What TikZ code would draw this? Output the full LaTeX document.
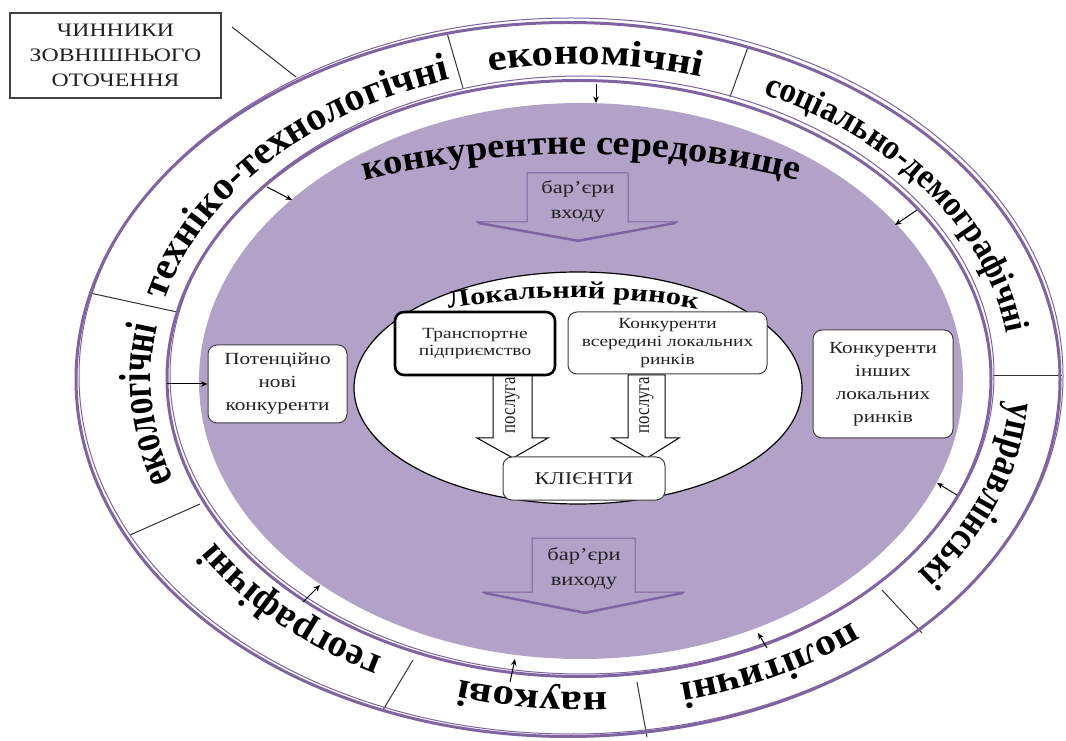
\documentclass[tikz,border=0pt]{standalone}
\usepackage{fontspec}
\setmainfont{Liberation Serif}[FakeStretch=1.25]
\newfontfamily\fsA{Liberation Serif}[FakeStretch=1.25]
\newfontfamily\fsG{Liberation Serif}[FakeStretch=1.16]
\newfontfamily\fsB{Liberation Serif}[FakeStretch=1.10]
\newfontfamily\fsD{Liberation Serif}[FakeStretch=1.0]
\newfontfamily\fsC{Liberation Serif}[FakeStretch=0.93]
\newfontfamily\fsE{Liberation Serif}[FakeStretch=0.82]
\newfontfamily\fsF{Liberation Serif}[FakeStretch=0.74]
\newfontfamily\fsH{Liberation Serif}[FakeStretch=0.8]
\usetikzlibrary{decorations.text,arrows.meta}
\definecolor{ringc}{HTML}{8064A2}
\definecolor{fillc}{HTML}{B3A2C7}
\definecolor{txtc}{HTML}{222222}
\tikzset{
  ring thick/.style={draw=ringc, line width=3pt},
  ring thin/.style={draw=ringc, line width=1pt},
  divider/.style={draw=black!80, line width=1pt},
  small arrow/.style={draw=black, line width=1pt, -{Stealth[length=6.5pt,width=5.5pt]}},
  seg text/.style={decorate, decoration={text along path, text align=center, text={#1}}},
  rbox/.style={draw=black!75, line width=1pt, rounded corners=9pt, fill=white, align=center, inner sep=0pt, text=txtc},
  barrier/.style={fill=fillc, draw=ringc, line width=1pt},
  service/.style={fill=white, draw=black, line width=1pt},
}
\begin{document}
\begin{tikzpicture}[x=1pt,y=1pt]
\useasboundingbox (0,0) rectangle (1066,740);
\fill[white] (0,0) rectangle (1066,740);

% purple competitive environment
\fill[fillc] (581,359) ellipse [x radius=382pt, y radius=278pt];

% dividers of the outer band
\draw[divider] (447,707) -- (463,652);
\draw[divider] (748,693) -- (730,643);
\draw[divider] (993,364) -- (1062,364);
\draw[divider] (882,150) -- (922,107);
\draw[divider] (637,58) -- (647,3);
\draw[divider] (383,30) -- (413,80);
\draw[divider] (130,205) -- (200,236);
\draw[divider] (90,447) -- (177,428);

% rings
\draw[ring thick] (568,360.5) ellipse [x radius=492pt, y radius=357pt];
\draw[ring thin] (571,364) ellipse [x radius=492pt, y radius=358pt];
\draw[ring thick] (579,361.5) ellipse [x radius=412pt, y radius=298pt];
\draw[ring thin] (582,365) ellipse [x radius=412pt, y radius=299pt];

% band texts
\path[seg text={|\fsD\bfseries\fontsize{40}{44}\selectfont|техніко-технологічні}]
  ([shift={(168:430pt and 314pt)}]581,361.5) arc[start angle=168, end angle=106, x radius=430pt, y radius=314pt];
\path[seg text={|\fsG\bfseries\fontsize{37}{44}\selectfont|економічні}]
  ([shift={(106:430pt and 314pt)}]581,361.5) arc[start angle=106, end angle=70, x radius=430pt, y radius=314pt];
\path[seg text={|\fsC\bfseries\fontsize{35.5}{44}\selectfont|соціально-демографічні}]
  ([shift={(70:430pt and 314pt)}]581,361.5) arc[start angle=70, end angle=1.5, x radius=430pt, y radius=314pt];
\path[seg text={|\fsE\bfseries\fontsize{41}{44}\selectfont|управлінські}]
  ([shift={(0:430pt and 314pt)}]581,361.5) arc[start angle=0, end angle=-42, x radius=430pt, y radius=314pt];
\path[seg text={|\fsB\bfseries\fontsize{38}{44}\selectfont|політичні}]
  ([shift={(-45.5:430pt and 314pt)}]581,361.5) arc[start angle=-45.5, end angle=-81.5, x radius=430pt, y radius=314pt];
\path[seg text={|\fsG\bfseries\fontsize{37}{44}\selectfont|наукові}]
  ([shift={(-81.5:430pt and 314pt)}]581,361.5) arc[start angle=-81.5, end angle=-111.5, x radius=430pt, y radius=314pt];
\path[seg text={|\fsD\bfseries\fontsize{39}{44}\selectfont|географічні}]
  ([shift={(-112.5:430pt and 314pt)}]581,361.5) arc[start angle=-112.5, end angle=-154.5, x radius=430pt, y radius=314pt];
\path[seg text={|\fsF\bfseries\fontsize{45}{48}\selectfont|екологічні}]
  ([shift={(204:430pt and 314pt)}]581,361.5) arc[start angle=204, end angle=165, x radius=430pt, y radius=314pt];

% legend box
\node[rbox, sharp corners, draw=black!75, line width=1.2pt, minimum width=211pt, minimum height=85pt,
      font=\fontsize{19}{25}\selectfont] (lbl) at (115.5,684.5) {ЧИННИКИ\\ЗОВНІШНЬОГО\\ОТОЧЕННЯ};
\coordinate (lnA) at (232,713);
\coordinate (lnB) at (296,663);
\draw[divider] (lnA) -- (lnB);

% small arrows from the factors
\coordinate (a1s) at (596,656); \coordinate (a1e) at (596,637);
\coordinate (a2s) at (267,553); \coordinate (a2e) at (292,540);
\coordinate (a3s) at (917,530); \coordinate (a3e) at (895,515);
\coordinate (a4s) at (167,356);
\coordinate (a5s) at (957,245); \coordinate (a5e) at (937,257);
\coordinate (a6s) at (767,92);  \coordinate (a6e) at (758,107);
\coordinate (a7s) at (510,58);  \coordinate (a7e) at (515,81);
\coordinate (a8s) at (303,138); \coordinate (a8e) at (320,155);
\draw[small arrow] (a1s) -- (a1e);
\draw[small arrow] (a2s) -- (a2e);
\draw[small arrow] (a3s) -- (a3e);
\draw[small arrow] (a5s) -- (a5e);
\draw[small arrow] (a6s) -- (a6e);
\draw[small arrow] (a7s) -- (a7e);
\draw[small arrow] (a8s) -- (a8e);

% competitive environment title
\path[seg text={|\fsB\bfseries\fontsize{35}{38}\selectfont|конкурентне середовище}]
  ([shift={(110:910pt)}]581,-324) arc[start angle=110, end angle=70, radius=910pt];

% barrier arrows
\draw[barrier] (527,567) -- (628,567) -- (628,518) -- (678,518) -- (578,500) -- (476,518) -- (527,518) -- cycle;
\draw[ringc, line width=2.2pt] (478,517) -- (578,499) -- (676,517);
\node[font=\fontsize{18}{25}\selectfont, text=txtc, align=center] (barin) at (578,538) {бар’єри\\входу};
\draw[barrier] (532,202) -- (635,202) -- (635,148) -- (685,148) -- (585,128) -- (482,148) -- (532,148) -- cycle;
\draw[ringc, line width=2.2pt] (484,147) -- (585,127) -- (683,147);
\node[font=\fontsize{18}{25}\selectfont, text=txtc, align=center] (barout) at (584,172) {бар’єри\\виходу};

% local market
\draw[fill=white, draw=black, line width=1.2pt] (578,352) ellipse [x radius=224pt, y radius=116pt];
\path[seg text={|\fsA\bfseries\fontsize{24.5}{28}\selectfont|Локальний ринок}]
  ([shift={(106:713pt)}]573,-271) arc[start angle=106, end angle=74, radius=713pt];

% service arrows
\draw[service] (493,365) -- (532,365) -- (532,302) -- (548,302) -- (513,282) -- (477,302) -- (493,302) -- cycle;
\draw[service] (628,365) -- (665,365) -- (665,302) -- (679,302) -- (647,282) -- (612,302) -- (628,302) -- cycle;
\node[rotate=90, font=\fsH\fontsize{21}{21}\selectfont, text=txtc] (svA) at (512.5,335) {послуга};
\node[rotate=90, font=\fsH\fontsize{21}{21}\selectfont, text=txtc] (svB) at (646.5,335) {послуга};

% boxes
\node[rbox, draw=black, line width=2.6pt, minimum width=160pt, minimum height=63pt,
      font=\fontsize{15.5}{17.5}\selectfont] (trans) at (475,396.5) {Транспортне\\підприємство};
\node[rbox, minimum width=199pt, minimum height=62pt,
      font=\fontsize{15.5}{18}\selectfont] (inner) at (667.5,397) {Конкуренти\\всередині локальних\\ринків};
\node[rbox, minimum width=162pt, minimum height=43pt,
      font=\fontsize{18}{20}\selectfont] (clients) at (584,261.5) {КЛІЄНТИ};
\node[rbox, minimum width=139pt, minimum height=78pt,
      font=\fontsize{17}{23}\selectfont] (pot) at (277.5,356) {Потенційно\\нові\\конкуренти};
\node[rbox, minimum width=140pt, minimum height=108pt,
      font=\fontsize{17}{23}\selectfont] (other) at (883,356) {Конкуренти\\інших\\локальних\\ринків};

\draw[small arrow] (a4s) -- (pot.west);
\end{tikzpicture}
\end{document}
